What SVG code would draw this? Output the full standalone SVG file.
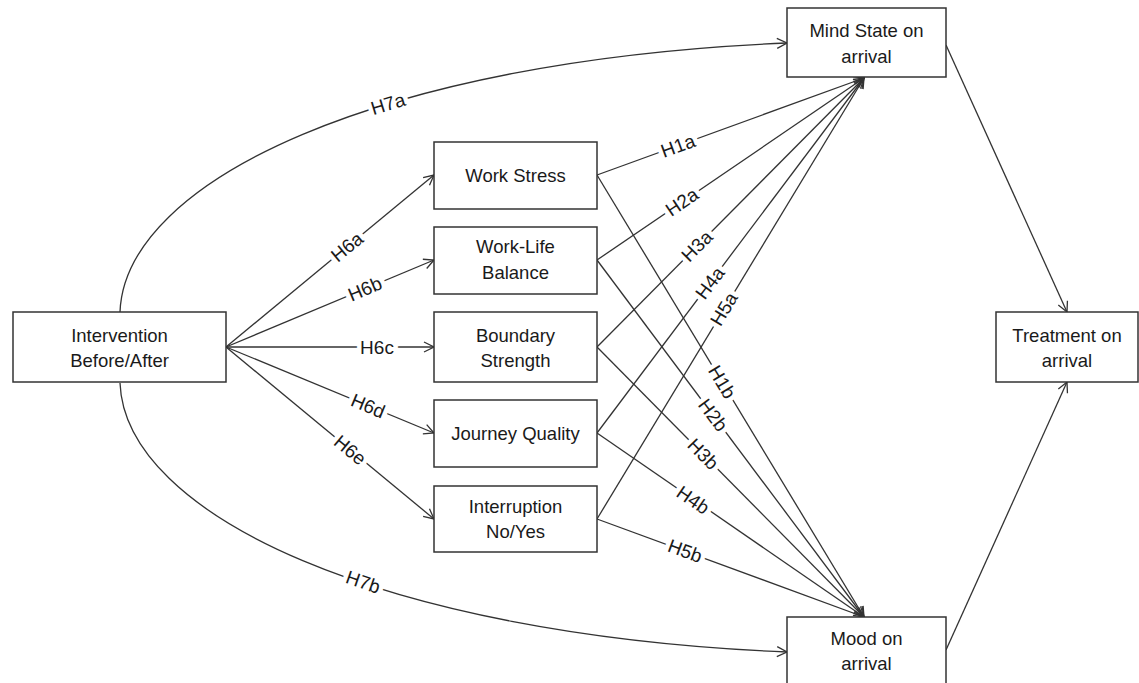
<svg xmlns="http://www.w3.org/2000/svg" width="1139" height="683" viewBox="0 0 1139 683">
<style>
.box{fill:#fff;stroke:#333;stroke-width:1.5}
.nt{font-family:"Liberation Sans",Arial,sans-serif;font-size:18.5px;fill:#1a1a1a;text-anchor:middle}
.ln{fill:none;stroke:#333;stroke-width:1.3;marker-end:url(#ah)}
.lb{font-family:"Liberation Sans",Arial,sans-serif;font-size:19px;fill:#1a1a1a;text-anchor:middle;dominant-baseline:central;stroke:#fff;stroke-width:9;paint-order:stroke;stroke-linejoin:round}
</style>
<defs>
<marker id="ah" markerWidth="12" markerHeight="12" refX="11" refY="6" orient="auto" markerUnits="userSpaceOnUse">
<path d="M1,1 L11,6 L1,11" fill="none" stroke="#333" stroke-width="1.3"/>
</marker>
</defs>
<rect width="1139" height="683" fill="#fff"/>
<g id="connectors">
<path class="ln" d="M120,312 C125,180 380,60 787,43"/>
<path class="ln" d="M120,383 C125,515 380,635 787,652"/>
<path class="ln" d="M226,347 L434,175"/>
<path class="ln" d="M226,347 L434,260"/>
<path class="ln" d="M226,347 L434,347"/>
<path class="ln" d="M226,347 L434,433"/>
<path class="ln" d="M226,347 L434,519"/>
<path class="ln" d="M597,175 L864,78"/>
<path class="ln" d="M597,260 L864,78"/>
<path class="ln" d="M597,347 L864,78"/>
<path class="ln" d="M597,433 L864,78"/>
<path class="ln" d="M597,519 L864,78"/>
<path class="ln" d="M597,175 L864,617"/>
<path class="ln" d="M597,260 L864,617"/>
<path class="ln" d="M597,347 L864,617"/>
<path class="ln" d="M597,433 L864,617"/>
<path class="ln" d="M597,519 L864,617"/>
<path class="ln" d="M946,45 L1067,312"/>
<path class="ln" d="M946,650 L1067,382"/>
<text class="lb" transform="translate(388,104) rotate(-17)">H7a</text>
<text class="lb" transform="translate(363,582) rotate(19)">H7b</text>
<text class="lb" transform="translate(347,247) rotate(-39.6)">H6a</text>
<text class="lb" transform="translate(365,289) rotate(-22.7)">H6b</text>
<text class="lb" transform="translate(377,347)">H6c</text>
<text class="lb" transform="translate(368,406) rotate(22.5)">H6d</text>
<text class="lb" transform="translate(350,450) rotate(39.6)">H6e</text>
<text class="lb" transform="translate(678,146) rotate(-20)">H1a</text>
<text class="lb" transform="translate(682,202) rotate(-34.3)">H2a</text>
<text class="lb" transform="translate(697,246) rotate(-45.2)">H3a</text>
<text class="lb" transform="translate(710,283) rotate(-53)">H4a</text>
<text class="lb" transform="translate(724,309) rotate(-58.8)">H5a</text>
<text class="lb" transform="translate(722,382) rotate(58.9)">H1b</text>
<text class="lb" transform="translate(713,415) rotate(53.2)">H2b</text>
<text class="lb" transform="translate(703,454) rotate(45.3)">H3b</text>
<text class="lb" transform="translate(693,500) rotate(34.6)">H4b</text>
<text class="lb" transform="translate(685,551) rotate(20.2)">H5b</text>
</g>
<g id="intervention"><rect class="box" x="13" y="312" width="213" height="70"/><text class="nt" x="119.5" y="342">Intervention</text><text class="nt" x="119.5" y="367">Before/After</text></g>
<g id="work-stress"><rect class="box" x="434" y="142" width="163" height="67"/><text class="nt" x="515.5" y="182">Work Stress</text></g>
<g id="work-life"><rect class="box" x="434" y="227" width="163" height="67"/><text class="nt" x="515.5" y="253">Work-Life</text><text class="nt" x="515.5" y="279">Balance</text></g>
<g id="boundary"><rect class="box" x="434" y="312" width="163" height="70"/><text class="nt" x="515.5" y="342">Boundary</text><text class="nt" x="515.5" y="367">Strength</text></g>
<g id="journey"><rect class="box" x="434" y="400" width="163" height="67"/><text class="nt" x="515.5" y="440">Journey Quality</text></g>
<g id="interruption"><rect class="box" x="434" y="486" width="163" height="66"/><text class="nt" x="515.5" y="513">Interruption</text><text class="nt" x="515.5" y="538">No/Yes</text></g>
<g id="mind-state"><rect class="box" x="787" y="8" width="159" height="69"/><text class="nt" x="866.5" y="37">Mind State on</text><text class="nt" x="866.5" y="63">arrival</text></g>
<g id="mood"><rect class="box" x="787" y="617" width="159" height="69"/><text class="nt" x="866.5" y="645">Mood on</text><text class="nt" x="866.5" y="670">arrival</text></g>
<g id="treatment"><rect class="box" x="996" y="312" width="142" height="70"/><text class="nt" x="1067" y="342">Treatment on</text><text class="nt" x="1067" y="367">arrival</text></g>
</svg>
